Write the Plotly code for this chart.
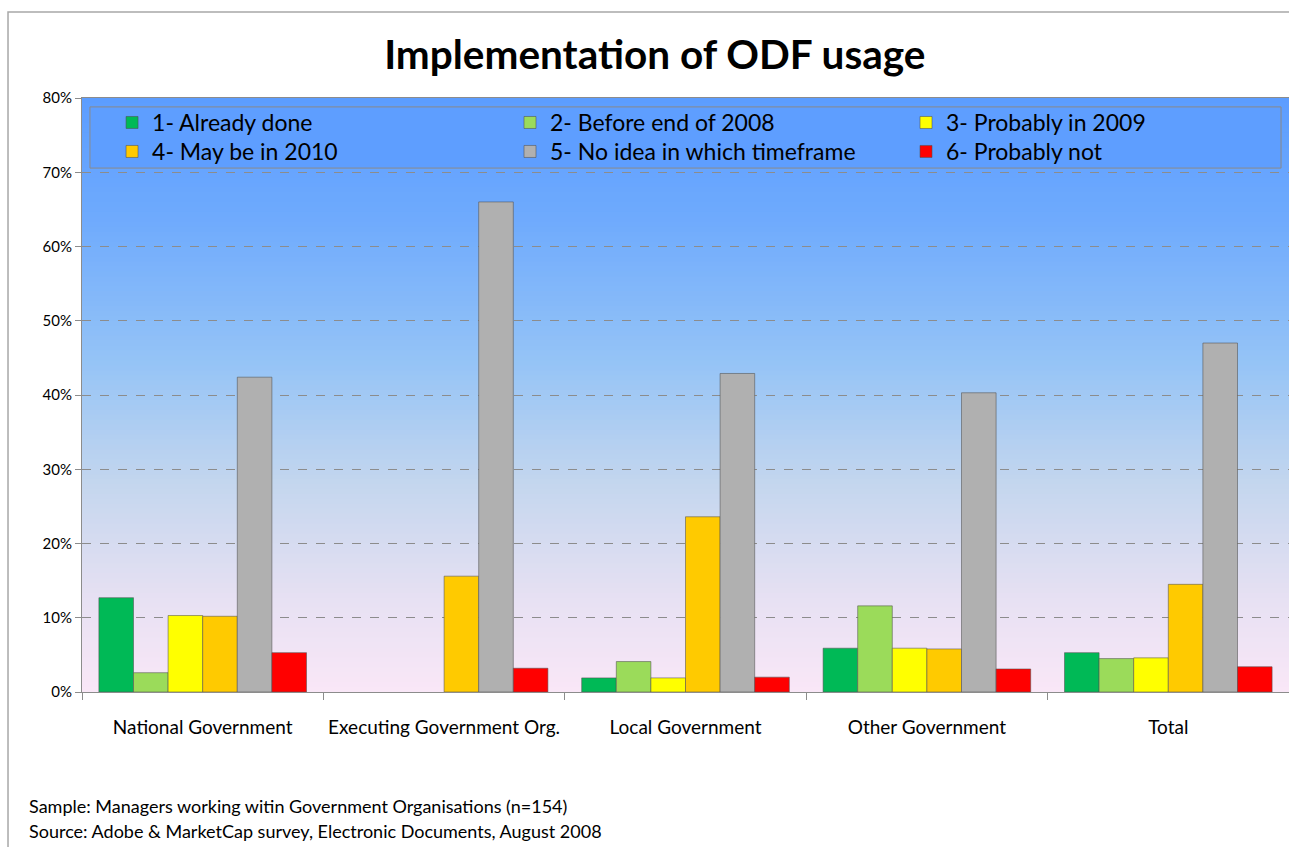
import plotly.graph_objects as go

categories = ["National Government", "Executing Government Org.", "Local Government",
              "Other Government", "Total"]
series_names = ["1- Already done", "2- Before end of 2008", "3- Probably in 2009",
                "4- May be in 2010", "5- No idea in which timeframe", "6- Probably not"]
already_done = [0.127, 0.0, 0.019, 0.059, 0.053]
before_2008 = [0.026, 0.0, 0.041, 0.116, 0.045]
probably_2009 = [0.103, 0.0, 0.019, 0.059, 0.046]
maybe_2010 = [0.102, 0.156, 0.236, 0.058, 0.145]
no_idea = [0.424, 0.660, 0.429, 0.403, 0.470]
probably_not = [0.053, 0.032, 0.020, 0.031, 0.034]
series_values = [already_done, before_2008, probably_2009, maybe_2010, no_idea, probably_not]
colors = ["#00B956", "#9BDB5A", "#FFFF00", "#FFCA00", "#B0B0B0", "#FF0000"]
legend_ids = ["legend", "legend2", "legend3", "legend4", "legend5", "legend6"]

FONT = "Lato"

fig = go.Figure()
for name, vals, col, lg in zip(series_names, series_values, colors, legend_ids):
    fig.add_trace(go.Bar(
        x=categories, y=vals, name=name, legend=lg,
        marker=dict(color=col,
                    line=dict(color="rgba(80,80,80,0.55)",
                              width=[0 if v == 0 else 1 for v in vals])),
    ))

# gradient plot background as thin horizontal bands
stops = [(0.0, (249, 231, 247)), (0.15, (232, 225, 243)), (0.35, (196, 214, 238)),
         (0.55, (150, 196, 246)), (0.8, (110, 170, 253)), (1.0, (92, 157, 255))]

def interp(t):
    for (t0, c0), (t1, c1) in zip(stops[:-1], stops[1:]):
        if t0 <= t <= t1:
            f = (t - t0) / (t1 - t0)
            return tuple(int(round(a + (b - a) * f)) for a, b in zip(c0, c1))
    return stops[-1][1]

shapes = []
n = 120
for i in range(n):
    y0 = i / n
    y1 = (i + 1) / n + 0.002
    r, g, b = interp((i + 0.5) / n)
    shapes.append(dict(type="rect", xref="x domain", yref="y domain",
                       x0=0, x1=1, y0=y0, y1=min(y1, 1), layer="below",
                       line=dict(width=0), fillcolor=f"rgb({r},{g},{b})"))

# legend box
shapes.append(dict(type="rect", xref="paper", yref="paper",
                   x0=0.0066, x1=0.9934, y0=0.882, y1=0.985, layer="below",
                   line=dict(color="#8A8A8A", width=1), fillcolor="#5E9EFF"))
# outer chart border
shapes.append(dict(type="rect", xref="paper", yref="paper",
                   x0=-0.0613, x1=1.02, y0=-0.3, y1=1.1448, layer="above",
                   line=dict(color="#A8A8A8", width=1.5), fillcolor="rgba(0,0,0,0)"))

legend_common = dict(orientation="v", yanchor="top", xanchor="left",
                     bgcolor="rgba(0,0,0,0)", borderwidth=0, traceorder="normal",
                     font=dict(family=FONT, size=23, color="black"))
col_x = [0.0249, 0.3546, 0.6827]
row_y = [0.9949, 0.9461]

fig.update_layout(
    width=1289, height=847,
    margin=dict(l=82, r=0, t=98, b=155),
    paper_bgcolor="white",
    plot_bgcolor="#F9E7F7",
    font=dict(family=FONT, color="#000000"),
    title=dict(text="<b>Implementation of ODF usage</b>", x=0.508, xanchor="center",
               y=0.935, yanchor="middle", font=dict(family=FONT, size=40.5, color="black")),
    barmode="group", bargap=0.14, bargroupgap=0,
    shapes=shapes,
    showlegend=True,
    legend=dict(x=col_x[0], y=row_y[0], **legend_common),
    legend2=dict(x=col_x[1], y=row_y[0], **legend_common),
    legend3=dict(x=col_x[2], y=row_y[0], **legend_common),
    legend4=dict(x=col_x[0], y=row_y[1], **legend_common),
    legend5=dict(x=col_x[1], y=row_y[1], **legend_common),
    legend6=dict(x=col_x[2], y=row_y[1], **legend_common),
    xaxis=dict(showline=True, linecolor="#8C8C8C", linewidth=1, mirror=True,
               ticks="outside", tickson="boundaries", ticklen=7, tickcolor="#8C8C8C",
               ticklabelstandoff=18,
               tickfont=dict(family=FONT, size=19, color="black"), showgrid=False),
    yaxis=dict(range=[0, 0.8], dtick=0.1, tickformat=".0%",
               showline=True, linecolor="#8C8C8C", linewidth=1,
               ticks="outside", ticklen=6, tickcolor="#8C8C8C",
               tickfont=dict(family=FONT, size=15, color="black"),
               showgrid=True, gridcolor="#8C8C8C", gridwidth=1, griddash="dash",
               zeroline=False),
    annotations=[
        dict(text="Sample: Managers working witin Government Organisations (n=154)",
             xref="paper", yref="paper", x=-0.0456, y=-0.192, xanchor="left",
             yanchor="middle", showarrow=False, font=dict(family=FONT, size=18, color="black")),
        dict(text="Source: Adobe & MarketCap survey, Electronic Documents, August 2008",
             xref="paper", yref="paper", x=-0.0456, y=-0.234, xanchor="left",
             yanchor="middle", showarrow=False, font=dict(family=FONT, size=18, color="black")),
    ],
)

fig.write_html("out.html", config={"displayModeBar": False},
               post_script="document.body.style.margin='0px';")
